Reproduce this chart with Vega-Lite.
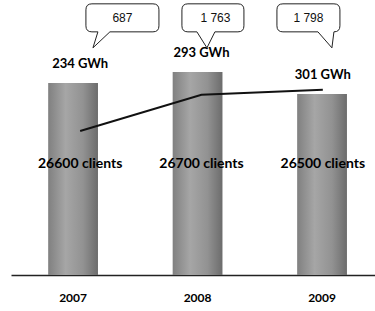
{
  "$schema": "https://vega.github.io/schema/vega-lite/v6.json",
  "autosize": "none",
  "width": 364,
  "height": 275,
  "padding": {"left": 11, "top": 0, "right": 0, "bottom": 36},
  "config": {"view": {"stroke": null}, "font": "Lato"},
  "data": {
    "values": [
      {"year": "2007", "clients": 26600, "gwh": 234, "callout": "687", "gwhLabel": "234 GWh", "clientLabel": "26600 clients"},
      {"year": "2008", "clients": 26700, "gwh": 293, "callout": "1 763", "gwhLabel": "293 GWh", "clientLabel": "26700 clients"},
      {"year": "2009", "clients": 26500, "gwh": 301, "callout": "1 798", "gwhLabel": "301 GWh", "clientLabel": "26500 clients"}
    ]
  },
  "resolve": {"scale": {"x": "independent", "y": "independent"}},
  "layer": [
    {
      "mark": {
        "type": "bar",
        "color": {
          "gradient": "linear", "x1": 0, "x2": 1, "y1": 0, "y2": 0,
          "stops": [
            {"offset": 0, "color": "#808080"},
            {"offset": 0.35, "color": "#a6a6a6"},
            {"offset": 0.7, "color": "#929292"},
            {"offset": 1, "color": "#6c6c6c"}
          ]
        }
      },
      "encoding": {
        "x": {
          "field": "year", "type": "nominal",
          "scale": {"paddingInner": 0.6, "paddingOuter": 0.262, "align": 0.57},
          "axis": {
            "title": null, "labelAngle": 0, "ticks": false, "labelPadding": 17,
            "labelFont": "Lato", "labelFontWeight": "bold", "labelFontSize": 12, "labelColor": "#000",
            "domain": true, "domainColor": "#222", "domainWidth": 1.5, "domainOpacity": 1
          }
        },
        "y": {"field": "clients", "type": "quantitative", "scale": {"domain": [24855, 27355], "zero": false}, "axis": null},
        "y2": {"datum": 24855}
      }
    },
    {
      "mark": {"type": "line", "color": "#111", "strokeWidth": 2},
      "encoding": {
        "x": {"field": "year", "type": "nominal", "scale": {"paddingInner": 0.6, "paddingOuter": 0.262, "align": 0.57}, "axis": null},
        "y": {"field": "gwh", "type": "quantitative", "scale": {"domain": [0, 447]}, "axis": null}
      }
    },
    {
      "mark": {"type": "text", "font": "Lato", "fontWeight": "bold", "fontSize": 13, "color": "#000", "baseline": "middle", "dy": -19},
      "encoding": {
        "x": {"field": "year", "type": "nominal", "scale": {"paddingInner": 0.6, "paddingOuter": 0.262, "align": 0.57}, "axis": null},
        "y": {"field": "clients", "type": "quantitative", "scale": {"domain": [24855, 27355], "zero": false}, "axis": null},
        "text": {"field": "gwhLabel"}
      }
    },
    {
      "mark": {"type": "text", "font": "Lato", "fontWeight": "bold", "fontSize": 14, "color": "#000", "baseline": "middle"},
      "encoding": {
        "x": {"field": "year", "type": "nominal", "scale": {"paddingInner": 0.6, "paddingOuter": 0.262, "align": 0.57}, "axis": null},
        "y": {"datum": 25864, "type": "quantitative", "scale": {"domain": [24855, 27355], "zero": false}, "axis": null},
        "text": {"field": "clientLabel"}
      }
    },
    {
      "mark": {"type": "point", "filled": true, "fill": "#fff", "stroke": "#222", "strokeWidth": 1, "opacity": 1, "size": 3600},
      "encoding": {
        "x": {"field": "year", "type": "nominal", "scale": {"type": "point", "padding": 0.957, "align": 0.626}, "axis": null},
        "y": {"datum": 418, "type": "quantitative", "scale": {"domain": [0, 447]}, "axis": null},
        "shape": {
          "field": "year", "type": "nominal", "legend": null,
          "scale": {
            "domain": ["2007", "2008", "2009"],
            "range": [
              "M -1.017 -0.467 L 1.017 -0.467 Q 1.217 -0.467 1.217 -0.267 L 1.217 0.267 Q 1.217 0.467 1.017 0.467 L -0.417 0.467 L -0.983 1 L -0.817 0.467 L -1.017 0.467 Q -1.217 0.467 -1.217 0.267 L -1.217 -0.267 Q -1.217 -0.467 -1.017 -0.467 Z",
              "M -0.917 -0.467 L 0.75 -0.467 Q 0.95 -0.467 0.95 -0.267 L 0.95 0.267 Q 0.95 0.467 0.75 0.467 L -0.017 0.467 L -0.283 1 L -0.617 0.467 L -0.917 0.467 Q -1.117 0.467 -1.117 0.267 L -1.117 -0.267 Q -1.117 -0.467 -0.917 -0.467 Z",
              "M -0.85 -0.467 L 0.85 -0.467 Q 1.05 -0.467 1.05 -0.267 L 1.05 0.267 Q 1.05 0.467 0.85 0.467 L 0.783 1 L 0.317 0.467 L -0.85 0.467 Q -1.05 0.467 -1.05 0.267 L -1.05 -0.267 Q -1.05 -0.467 -0.85 -0.467 Z"
            ]
          }
        }
      }
    },
    {
      "mark": {"type": "text", "font": "Liberation Sans", "fontSize": 12, "color": "#111", "baseline": "middle"},
      "encoding": {
        "x": {"field": "year", "type": "nominal", "scale": {"type": "point", "padding": 0.957, "align": 0.626}, "axis": null},
        "y": {"datum": 418, "type": "quantitative", "scale": {"domain": [0, 447]}, "axis": null},
        "text": {"field": "callout"}
      }
    }
  ]
}
